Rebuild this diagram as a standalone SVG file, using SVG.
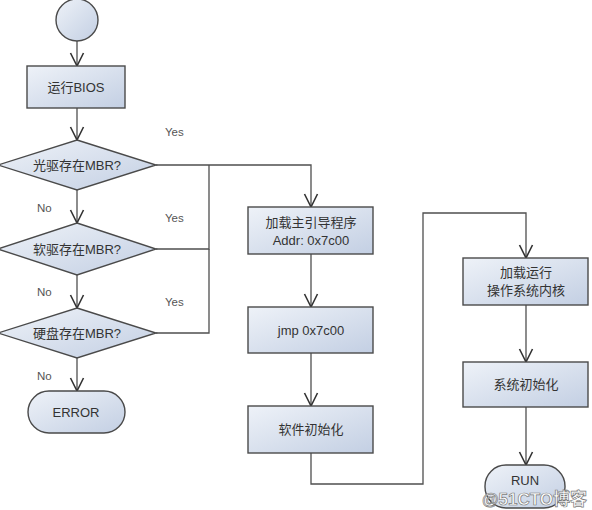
<svg xmlns="http://www.w3.org/2000/svg" width="592" height="510" viewBox="0 0 592 510">
<defs>
<linearGradient id="g" x1="0" y1="0" x2="1" y2="1">
<stop offset="0" stop-color="#eef2f8"/>
<stop offset="1" stop-color="#c3cfe3"/>
</linearGradient>
<marker id="v" markerWidth="16" markerHeight="16" refX="14" refY="8" orient="auto" markerUnits="userSpaceOnUse" viewBox="0 0 16 16">
<path d="M1,1.5 L14,8 L1,14.5" fill="none" stroke="#333" stroke-width="1.6"/>
</marker>
</defs>
<style>
.n{fill:url(#g);stroke:#4a4a4a;stroke-width:1.4}
.c{fill:none;stroke:#4f4f4f;stroke-width:1.3}
.t{font-family:"Liberation Sans","Noto Sans CJK SC",sans-serif;font-size:13px;fill:#333;text-anchor:middle}
.l{font-family:"Liberation Sans","Noto Sans CJK SC",sans-serif;font-size:11.5px;fill:#555}
</style>
<rect width="592" height="510" fill="#ffffff"/>
<g id="connectors">
<path class="c" d="M77,41 V66" marker-end="url(#v)"/>
<path class="c" d="M77,108 V140" marker-end="url(#v)"/>
<path class="c" d="M77,190 V223" marker-end="url(#v)"/>
<path class="c" d="M77,275 V308" marker-end="url(#v)"/>
<path class="c" d="M77,358 V391" marker-end="url(#v)"/>
<path class="c" d="M156,165 H311 V207" marker-end="url(#v)"/>
<path class="c" d="M156,249 H209 V165"/>
<path class="c" d="M156,333 H209 V249"/>
<path class="c" d="M311,254 V307" marker-end="url(#v)"/>
<path class="c" d="M311,353 V406" marker-end="url(#v)"/>
<path class="c" d="M311,453 V484 H423 V213 H526 V258" marker-end="url(#v)"/>
<path class="c" d="M526,305 V362" marker-end="url(#v)"/>
<path class="c" d="M526,407 V465" marker-end="url(#v)"/>
<text class="l" x="165" y="136">Yes</text>
<text class="l" x="165" y="222">Yes</text>
<text class="l" x="165" y="306">Yes</text>
<text class="l" x="37" y="212">No</text>
<text class="l" x="37" y="296">No</text>
<text class="l" x="37" y="380">No</text>
</g>
<g id="start"><circle class="n" cx="77" cy="20" r="21"/></g>
<g id="bios"><rect class="n" x="27" y="66" width="98" height="42"/><text class="t" x="76" y="92">运行BIOS</text></g>
<g id="cd"><polygon class="n" points="77,140 156,165 77,190 -2,165"/><text class="t" x="77" y="170">光驱存在MBR?</text></g>
<g id="floppy"><polygon class="n" points="77,223 156,249 77,275 -2,249"/><text class="t" x="77" y="254">软驱存在MBR?</text></g>
<g id="hdd"><polygon class="n" points="77,308 156,333 77,358 -2,333"/><text class="t" x="77" y="338">硬盘存在MBR?</text></g>
<g id="error"><rect class="n" x="28" y="391" width="97" height="42" rx="21"/><text class="t" x="76" y="417">ERROR</text></g>
<g id="load"><rect class="n" x="248" y="207" width="125" height="47"/><text class="t" x="311" y="227">加载主引导程序</text><text class="t" x="311" y="245">Addr: 0x7c00</text></g>
<g id="jmp"><rect class="n" x="248" y="307" width="125" height="46"/><text class="t" x="311" y="335">jmp 0x7c00</text></g>
<g id="swinit"><rect class="n" x="248" y="406" width="125" height="47"/><text class="t" x="311" y="434">软件初始化</text></g>
<g id="kernel"><rect class="n" x="463" y="258" width="125" height="47"/><text class="t" x="526" y="277">加载运行</text><text class="t" x="526" y="295">操作系统内核</text></g>
<g id="sysinit"><rect class="n" x="463" y="362" width="125" height="45"/><text class="t" x="526" y="389">系统初始化</text></g>
<g id="run"><rect class="n" x="485" y="465" width="80" height="43" rx="21"/><text class="t" x="525" y="485">RUN</text></g>
<text x="482" y="505" font-family="Liberation Sans,Noto Sans CJK SC,sans-serif" font-size="17" font-weight="bold" fill="#ffffff" stroke="#7a7a7a" stroke-width="0.7">@51CTO博客</text>
</svg>
